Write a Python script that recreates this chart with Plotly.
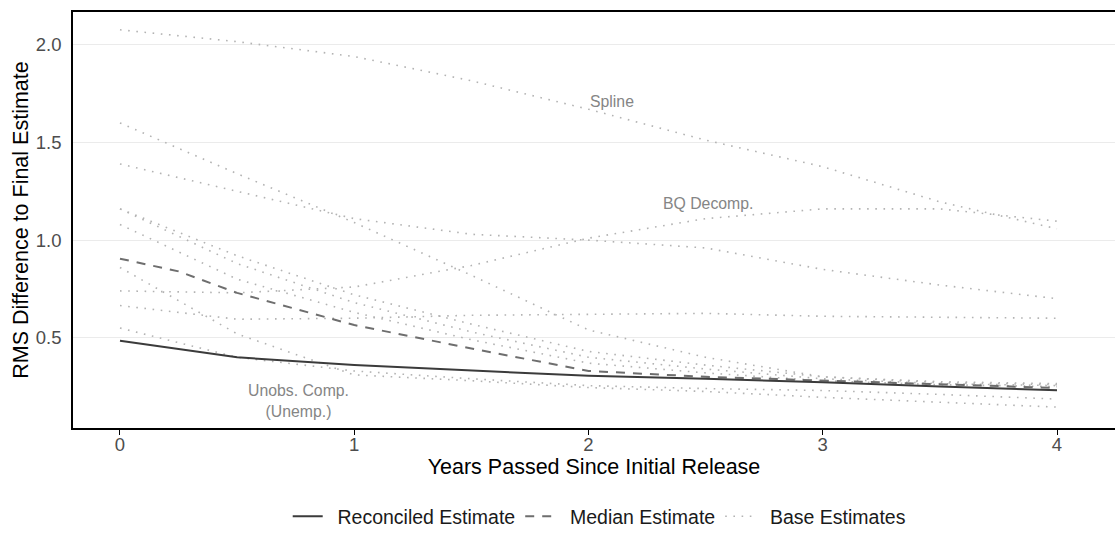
import plotly.graph_objects as go

# Horizon (years after first release) at which each revision error is measured
years = [0, 0.5, 1, 1.5, 2, 2.5, 3, 3.5, 4]
median_years = [0, 0.25, 0.5, 1, 1.5, 2, 2.5, 3, 3.5, 4]

# Reconciled and median estimates
reconciled = [0.485, 0.40, 0.36, 0.333, 0.305, 0.29, 0.272, 0.25, 0.231]
median_est = [0.905, 0.84, 0.73, 0.565, 0.445, 0.33, 0.30, 0.28, 0.26, 0.243]

# Individual base estimates
spline = [2.077, 2.016, 1.94, 1.816, 1.67, 1.512, 1.376, 1.196, 1.058]
bq_decomp = [0.74, 0.73, 0.76, 0.87, 1.01, 1.11, 1.16, 1.16, 1.097]
base_b = [1.60, 1.34, 1.09, 0.82, 0.54, 0.40, 0.30, 0.27, 0.26]
base_c = [1.39, 1.25, 1.11, 1.03, 1.00, 0.96, 0.85, 0.77, 0.70]
base_e1 = [1.16, 0.92, 0.72, 0.57, 0.43, 0.36, 0.30, 0.275, 0.265]
base_e2 = [1.16, 0.88, 0.68, 0.53, 0.40, 0.34, 0.29, 0.265, 0.255]
base_f = [1.08, 0.80, 0.63, 0.49, 0.37, 0.32, 0.28, 0.26, 0.25]
base_i = [0.665, 0.595, 0.60, 0.615, 0.62, 0.625, 0.61, 0.605, 0.60]
base_g = [0.86, 0.52, 0.31, 0.28, 0.245, 0.225, 0.195, 0.17, 0.145]
unobs_unemp = [0.55, 0.40, 0.33, 0.29, 0.255, 0.24, 0.23, 0.21, 0.186]

base_series = [spline, bq_decomp, base_b, base_c, base_e1, base_e2,
               base_f, base_i, base_g, unobs_unemp]

# Method labels placed next to their lines
label_texts = ["Spline", "BQ Decomp.", "Unobs. Comp.<br>(Unemp.)"]
label_x = [2.1, 2.51, 0.76]
label_y = [1.712, 1.19, 0.175]

FONT = "Liberation Sans, Arial, Helvetica, sans-serif"
GAP = "\u2002"  # en space between legend key and its label

fig = go.Figure()

for i, vals in enumerate(base_series):
    fig.add_trace(go.Scatter(
        x=years, y=vals, mode="lines",
        name=GAP + "Base Estimates", legendgroup="base",
        showlegend=(i == 0), legendrank=3,
        line=dict(color="#b3b3b3", width=1.6, dash="1.6px,6.6px"),
        hoverinfo="skip",
    ))

fig.add_trace(go.Scatter(
    x=median_years, y=median_est, mode="lines",
    name=GAP + "Median Estimate", legendrank=2,
    line=dict(color="#6e6e6e", width=2, dash="9px,8px"),
))

fig.add_trace(go.Scatter(
    x=years, y=reconciled, mode="lines", name=GAP + "Reconciled Estimate",
    legendrank=1,
    line=dict(color="#3b3b3b", width=2),
))

for t, lx, ly in zip(label_texts, label_x, label_y):
    fig.add_annotation(x=lx, y=ly, text=t, showarrow=False,
                       font=dict(family=FONT, size=15.8, color="#858585"))

fig.update_layout(
    width=1115, height=539,
    margin=dict(l=73, r=0, t=12, b=111),
    paper_bgcolor="white", plot_bgcolor="white",
    font=dict(family=FONT, color="#000000"),
    showlegend=True,
    legend=dict(
        orientation="h", x=0.505, xanchor="center",
        y=-0.166, yanchor="top",
        font=dict(family=FONT, size=19.5, color="#1a1a1a"),
        itemwidth=30, traceorder="normal",
    ),
    xaxis=dict(
        range=[-0.2006, 4.2476],
        tickvals=[0, 1, 2, 3, 4],
        ticktext=["0", "1", "2", "3", "4"],
        showgrid=False, zeroline=False,
        showline=True, linecolor="#000000", linewidth=1.6, mirror=True,
        ticks="outside", ticklen=5, tickwidth=1.4, tickcolor="#000000",
        ticklabelstandoff=-6,
        tickfont=dict(family=FONT, size=18.5, color="#4d4d4d"),
        title=dict(text="Years Passed Since Initial Release",
                   font=dict(family=FONT, size=21.5, color="#000000"),
                   standoff=2),
    ),
    yaxis=dict(
        range=[0.038, 2.168],
        tickvals=[0.5, 1.0, 1.5, 2.0],
        ticktext=["0.5", "1.0", "1.5", "2.0"],
        showgrid=True, gridcolor="#ebebeb", gridwidth=1,
        zeroline=False,
        showline=True, linecolor="#000000", linewidth=1.6,
        ticks="outside", ticklen=6, tickcolor="rgba(0,0,0,0)",
        tickfont=dict(family=FONT, size=18.5, color="#4d4d4d"),
        title=dict(text="RMS Difference to Final Estimate",
                   font=dict(family=FONT, size=21.5, color="#000000"),
                   standoff=1),
    ),
)

fig.write_html("out.html")
